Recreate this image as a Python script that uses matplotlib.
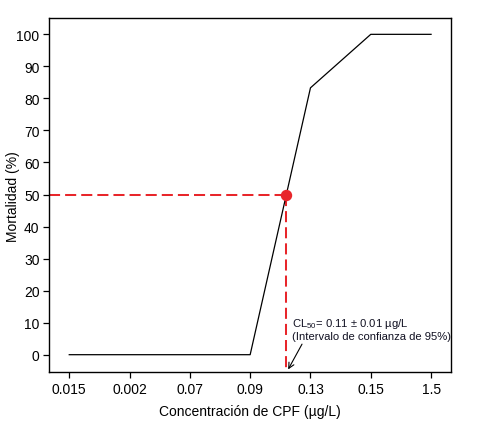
import matplotlib
matplotlib.use("Agg")
import matplotlib.pyplot as plt

plt.rcParams['font.family'] = ['Liberation Sans', 'DejaVu Sans']
plt.rcParams['mathtext.fontset'] = 'custom'
plt.rcParams['mathtext.rm'] = 'Liberation Sans'
plt.rcParams['mathtext.it'] = 'Liberation Sans:italic'

concentrations = ["0.015", "0.002", "0.07", "0.09", "0.13", "0.15", "1.5"]
mortality = [0, 0, 0, 0, 83.3, 100, 100]
cl50_position = 3.6
cl50_mortality = 50
y_ticks = [0, 10, 20, 30, 40, 50, 60, 70, 80, 90, 100]

fig = plt.figure(figsize=(4.79, 4.35), dpi=100)
ax = fig.add_axes([0.103, 0.1418, 0.8385, 0.8138])

xs = list(range(len(concentrations)))
ax.plot(xs, mortality, color='black', lw=0.9, zorder=3)

ymin, ymax = -5.5, 105
xmin, xmax = -0.33, 6.33
red = '#e8262b'
ax.plot([xmin, cl50_position], [cl50_mortality, cl50_mortality], color=red, lw=1.45,
        dashes=(5.5, 2.5), zorder=2)
ax.plot([cl50_position, cl50_position], [cl50_mortality, ymin], color=red, lw=1.45,
        dashes=(5.5, 2.5), zorder=2)
ax.plot([cl50_position], [cl50_mortality], 'o', color=red, ms=7.2, zorder=4)

ax.text(3.69, 4.2, "CL$_{50}$= 0.11 ± 0.01 µg/L\n(Intervalo de confianza de 95%)",
        fontsize=8.1, color='#111122', ha='left', va='bottom', linespacing=1.2)
ax.annotate("", xy=(3.63, -4.6), xytext=(3.86, 3.3),
            arrowprops=dict(arrowstyle='->', color='black', lw=0.8,
                            shrinkA=0, shrinkB=0))

ax.set_xlim(xmin, xmax)
ax.set_ylim(ymin, ymax)
ax.set_xticks(xs)
ax.set_xticklabels(concentrations)
ax.set_yticks(y_ticks)
ax.tick_params(axis='both', labelsize=10, length=4, width=0.9, direction='out', pad=3)
for s in ax.spines.values():
    s.set_linewidth(1.0)

ax.set_xlabel("Concentración de CPF (µg/L)", fontsize=10, labelpad=6)
ax.set_ylabel("Mortalidad (%)", fontsize=10)
ax.yaxis.set_label_coords(-0.073, 0.5)

fig.savefig("out.png", dpi=100)
